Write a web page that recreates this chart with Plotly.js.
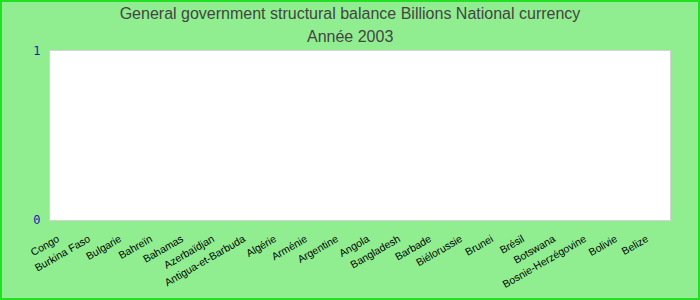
<!DOCTYPE html>
<html><head><meta charset="utf-8">
<script src="https://cdn.plot.ly/plotly-3.0.1.min.js"></script>
<style>
html,body{margin:0;padding:0;background:#90EE90;}
#wrap{position:relative;width:700px;height:300px;}
#chart{width:700px;height:300px;}
#frame{position:absolute;left:0;top:0;width:700px;height:300px;box-sizing:border-box;border:2px solid #22e022;pointer-events:none;}
</style></head>
<body>
<div id="wrap"><div id="chart"></div><div id="frame"></div></div>
<script>
const categories = ["Congo","Burkina Faso","Bulgarie","Bahreïn","Bahamas","Azerbaïdjan","Antigua-et-Barbuda","Algérie","Arménie","Argentine","Angola","Bangladesh","Barbade","Biélorussie","Brunei","Brésil","Botswana","Bosnie-Herzégovine","Bolivie","Belize"];
const values = [null,null,null,null,null,null,null,null,null,null,null,null,null,null,null,null,null,null,null,null];
const yTicks = [0, 1];
const titleText = 'General government structural balance Billions National currency';
const subtitleText = 'Année 2003';

const titleFont = {family: 'Liberation Sans, Arial, sans-serif', size: 16, color: '#444444'};

Plotly.newPlot('chart', [{
  type: 'bar',
  x: categories,
  y: values,
  marker: {color: '#4a90d9'}
}], {
  width: 700, height: 300,
  paper_bgcolor: '#90EE90',
  plot_bgcolor: '#ffffff',
  margin: {l: 50, r: 30, t: 51, b: 80},
  title: {
    text: titleText,
    font: titleFont,
    x: 0.5, xanchor: 'center', y: 1 - 13/300, yanchor: 'middle'
  },
  annotations: [{
    text: subtitleText,
    font: titleFont,
    xref: 'paper', yref: 'paper',
    x: (350 - 50) / 620, xanchor: 'center',
    y: 1 + (51 - 36) / 169, yanchor: 'middle',
    showarrow: false
  }],
  showlegend: false,
  xaxis: {
    type: 'category',
    tickangle: -30,
    tickfont: {family: 'Liberation Sans, Arial, sans-serif', size: 10.5, color: '#000000'},
    showgrid: false, zeroline: false,
    showline: true, mirror: true, linecolor: '#d3d3d3', linewidth: 1,
    ticks: '',
    ticklabelstandoff: 8,
    ticklabelshift: -8
  },
  yaxis: {
    range: [0, 1],
    tickvals: yTicks,
    ticktext: yTicks.map(String),
    tickfont: {family: 'DejaVu Sans Mono, monospace', size: 12, color: '#1a1aaa'},
    showgrid: false, zeroline: false,
    showline: true, mirror: true, linecolor: '#d3d3d3', linewidth: 1,
    ticks: '',
    ticklabelstandoff: 6
  }
}, {displayModeBar: false, staticPlot: true});
</script>
</body></html>
